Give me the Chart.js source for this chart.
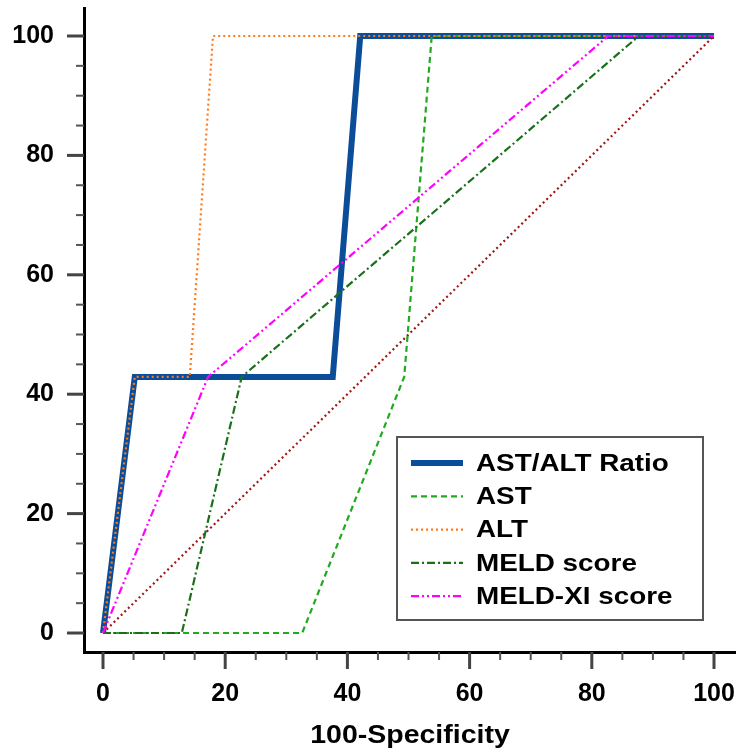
<!DOCTYPE html>
<html>
<head>
<meta charset="utf-8">
<script src="https://cdn.jsdelivr.net/npm/chart.js@4.4.1/dist/chart.umd.min.js"></script>
<style>
  html, body { margin: 0; padding: 0; background: #fff; }
  #wrap { width: 736px; height: 752px; }
</style>
</head>
<body>
<div id="wrap"><canvas id="roc"></canvas></div>
<script>
// ROC curves, x = 100-Specificity, y = Sensitivity
var names = ['AST/ALT Ratio', 'AST', 'ALT', 'MELD score', 'MELD-XI score'];

var ratioX = [0, 5.2, 37.6, 42.1, 100];
var ratioY = [0, 42.9, 42.9, 100, 100];

var astX = [0, 32.6, 49.3, 53.8, 100];
var astY = [0, 0, 42.9, 100, 100];

var altX = [0, 5.2, 14.2, 18.0, 100];
var altY = [0, 42.9, 42.9, 100, 100];

var meldX = [0, 12.9, 22.7, 87.7, 100];
var meldY = [0, 0, 42.9, 100, 100];

var meldxiX = [0, 17.2, 82.7, 100];
var meldxiY = [0, 42.9, 100, 100];

var refX = [0, 100];
var refY = [0, 100];

var tickVals = [0, 20, 40, 60, 80, 100];
var xTitle = '100-Specificity';

function pts(xs, ys) {
    return xs.map(function (x, i) { return { x: x, y: ys[i] }; });
}

var styles = [
    { color: '#0b4d99', width: 6, dash: [] },
    { color: '#1faa1f', width: 2.2, dash: [6, 4] },
    { color: '#ff7a1a', width: 2.2, dash: [2, 3] },
    { color: '#19701a', width: 2.2, dash: [8, 3, 2, 3] },
    { color: '#ff00ff', width: 2.2, dash: [8, 3, 2, 3, 2, 3] }
];

var FONT = '"Liberation Sans", Arial, sans-serif';

// axis tick marks (major every 20, minor every 5), drawn outside the axes
var tickMarks = {
    id: 'tickMarks',
    afterDraw: function (chart) {
        var ctx = chart.ctx, xs = chart.scales.x, ys = chart.scales.y;
        var area = chart.chartArea;
        ctx.save();
        for (var v = 0; v <= 100; v += 5) {
            var major = v % 20 === 0;
            ctx.strokeStyle = major ? '#444' : '#555';
            ctx.lineWidth = major ? 3 : 2;
            var len = major ? 17 : 8;
            var px = xs.getPixelForValue(v);
            ctx.beginPath();
            ctx.moveTo(px, area.bottom);
            ctx.lineTo(px, area.bottom + len);
            ctx.stroke();
            var py = ys.getPixelForValue(v);
            ctx.beginPath();
            ctx.moveTo(area.left, py);
            ctx.lineTo(area.left - len, py);
            ctx.stroke();
        }
        // x axis title, a bit wide like the original
        ctx.fillStyle = '#000';
        ctx.font = 'bold 25px ' + FONT;
        ctx.textAlign = 'center';
        ctx.textBaseline = 'middle';
        ctx.translate((area.left + area.right) / 2, 736);
        ctx.scale(1.14, 1);
        ctx.fillText(xTitle, 0, 0);
        ctx.restore();
    }
};

// legend box inside the plot
var boxLegend = {
    id: 'boxLegend',
    afterDraw: function (chart) {
        var ctx = chart.ctx;
        ctx.save();
        ctx.fillStyle = '#fff';
        ctx.fillRect(397, 437, 306, 183);
        ctx.strokeStyle = '#555';
        ctx.lineWidth = 2;
        ctx.strokeRect(397, 437, 306, 183);
        ctx.font = 'bold 24px ' + FONT;
        ctx.textBaseline = 'middle';
        ctx.fillStyle = '#000';
        for (var i = 0; i < names.length; i++) {
            var y = 463 + i * 33.3;
            var s = styles[i];
            ctx.strokeStyle = s.color;
            ctx.lineWidth = s.width;
            ctx.setLineDash(s.dash);
            ctx.beginPath();
            ctx.moveTo(411, y);
            ctx.lineTo(463, y);
            ctx.stroke();
            ctx.setLineDash([]);
            ctx.save();
            ctx.translate(476, y + 1);
            ctx.scale(1.16, 1);
            ctx.fillText(names[i], 0, 0);
            ctx.restore();
        }
        ctx.restore();
    }
};

function noPad(s) {
    s.paddingTop = 0; s.paddingBottom = 0; s.paddingLeft = 0; s.paddingRight = 0;
}

var series = [pts(ratioX, ratioY), pts(astX, astY), pts(altX, altY), pts(meldX, meldY), pts(meldxiX, meldxiY)];
var datasets = series.map(function (d, i) {
    return {
        label: names[i],
        data: d,
        borderColor: styles[i].color,
        borderWidth: styles[i].width,
        borderDash: styles[i].dash,
        pointRadius: 0,
        fill: false,
        tension: 0,
        order: i === 0 ? 10 : 5 - i
    };
});
datasets.push({
    label: 'ref',
    data: pts(refX, refY),
    borderColor: '#a01515',
    borderWidth: 2.2,
    borderDash: [2, 3],
    pointRadius: 0,
    fill: false,
    order: 8
});

var c = document.getElementById('roc').getContext('2d');
var chart = new Chart(c, {
    type: 'line',
    data: { datasets: datasets },
    options: {
        responsive: true,
        maintainAspectRatio: false,
        animation: false,
        layout: { padding: { top: 8, right: 0, left: 0, bottom: 0 } },
        plugins: { legend: { display: false }, tooltip: { enabled: false } },
        scales: {
            x: {
                type: 'linear',
                min: -3.11,
                max: 103.6,
                afterBuildTicks: function (s) { s.ticks = tickVals.map(function (v) { return { value: v }; }); },
                afterFit: function (s) { s.height = 100; noPad(s); },
                grid: { display: true, drawOnChartArea: false, drawTicks: false },
                border: { color: '#000', width: 3 },
                ticks: { padding: 27, color: '#000', font: { family: FONT, size: 25, weight: 'bold' }, maxRotation: 0 }
            },
            y: {
                type: 'linear',
                min: -3.18,
                max: 104.69,
                afterBuildTicks: function (s) { s.ticks = tickVals.map(function (v) { return { value: v }; }); },
                afterFit: function (s) { s.width = 84; noPad(s); },
                grid: { display: true, drawOnChartArea: false, drawTicks: false },
                border: { color: '#000', width: 3 },
                ticks: { padding: 30, color: '#000', font: { family: FONT, size: 25, weight: 'bold' } }
            }
        }
    },
    plugins: [tickMarks, boxLegend]
});
</script>
</body>
</html>
